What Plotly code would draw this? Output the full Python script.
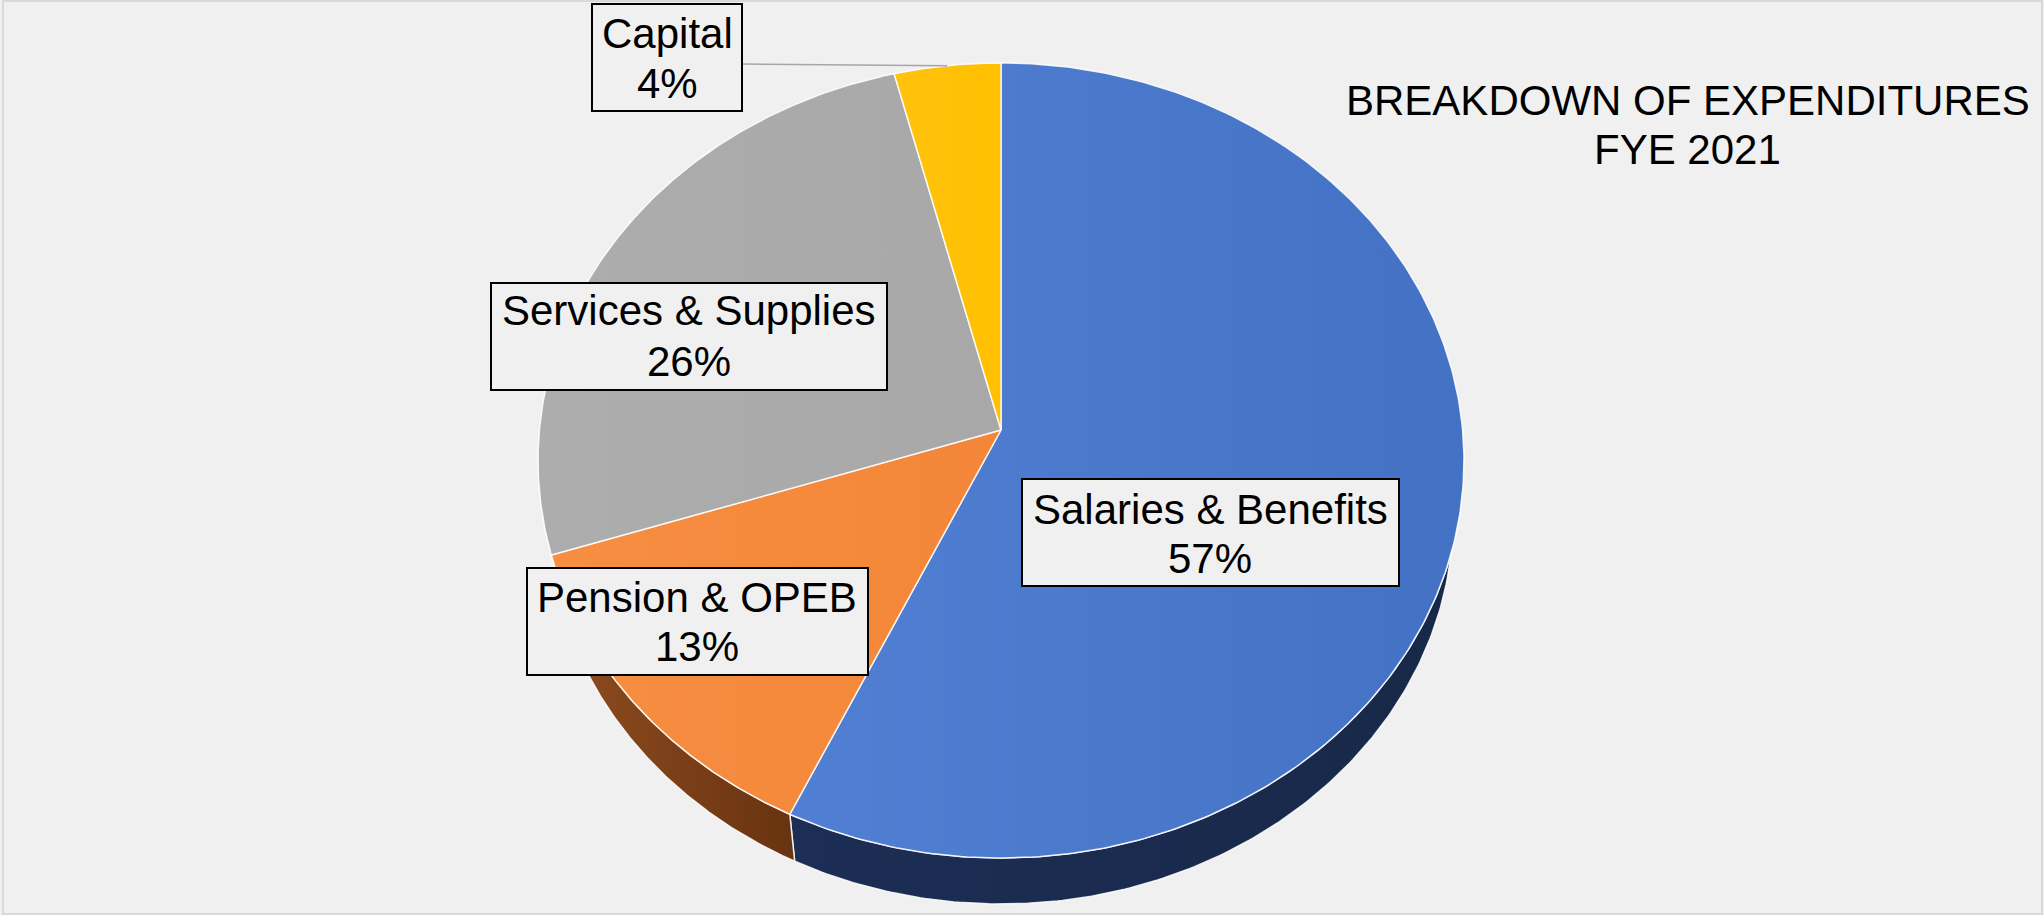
import numpy as np
import plotly.graph_objects as go

# ---------------- data ----------------
categories = ["Salaries & Benefits", "Pension & OPEB", "Services & Supplies", "Capital"]
values = [57, 13, 26, 4]
pct_labels = ["57%", "13%", "26%", "4%"]
title_lines = ["BREAKDOWN OF EXPENDITURES", "FYE 2021"]

# ---------------- style ----------------
top_grad = [["#517FD3", "#4371C3"], ["#F78E42", "#F38638"], ["#ADADAD", "#A8A8A8"], ["#FFC30E", "#FFC000"]]
side_grad = [["#1D2E56", "#172848"], ["#904D20", "#683311"], ["#7A7A7A", "#6E6E6E"], ["#B88A00", "#A67C00"]]
# label boxes (x0, x1, y0, y1) in page pixels, and text line centres
label_boxes = [(1022, 1399, 479, 586), (527, 868, 568, 675), (491, 887, 283, 390), (592, 742, 4, 111)]
label_cx = [1210, 697, 689, 667]
label_y1 = [509, 597, 310, 33]
label_y2 = [558, 646, 361, 83]

W, H = 2044, 915
# perspective pie geometry (page pixels)
CX, CY = 1001, 430          # apex of the pie
A, B, K = 461.6, 395.2, 0.0767
S, YV = 0.977, 2856.0       # shrink toward vanishing point for the bottom face
FONT = "Liberation Sans, Arial, sans-serif"
EDGE = dict(color="rgba(255,255,255,0.85)", width=1.5)


def rim(t_deg, bottom=False):
    t = np.radians(t_deg)
    u, v = np.sin(t), np.cos(t)
    w = 1 + K * v
    x = CX + A * u / w
    y = CY - B * v / w
    if bottom:
        x = CX + (x - CX) * S
        y = YV + (y - YV) * S
    return x, y


total = float(sum(values))
bounds = np.concatenate([[0.0], np.cumsum(values) / total * 360.0])

fig = go.Figure()

# side walls (front half only)
for i in range(len(values)):
    a, b = bounds[i], bounds[i + 1]
    lo, hi = max(a, 90.0), min(b, 270.0)
    if hi <= lo:
        continue
    ts = np.linspace(lo, hi, 200)
    xt, yt = rim(ts)
    xb, yb = rim(ts[::-1], bottom=True)
    fig.add_trace(go.Scatter(
        x=np.concatenate([xt, xb, xt[:1]]), y=np.concatenate([yt, yb, yt[:1]]),
        mode="lines", fill="toself", line=EDGE,
        fillgradient=dict(type="horizontal", colorscale=[[0, side_grad[i][0]], [1, side_grad[i][1]]]),
        hoverinfo="skip", showlegend=False))

# top faces
for i in range(len(values)):
    a, b = bounds[i], bounds[i + 1]
    ts = np.linspace(a, b, 300)
    xr, yr = rim(ts)
    fig.add_trace(go.Scatter(
        x=np.concatenate([[CX], xr, [CX]]), y=np.concatenate([[CY], yr, [CY]]),
        mode="lines", fill="toself", line=EDGE,
        fillgradient=dict(type="horizontal", colorscale=[[0, top_grad[i][0]], [1, top_grad[i][1]]]),
        name=categories[i], hoverinfo="name", showlegend=False))

shapes = []
annotations = []

# leader line for the smallest slice (Capital)
cap_mid = (bounds[3] + bounds[4]) / 2
lx, ly = rim(cap_mid)
shapes.append(dict(type="line", xref="x", yref="y", x0=label_boxes[3][1], y0=64, x1=float(lx), y1=float(ly),
                   line=dict(color="#A6A6A6", width=1.5), layer="above"))

for i in range(len(values)):
    x0, x1, y0, y1 = label_boxes[i]
    shapes.append(dict(type="rect", xref="x", yref="y", x0=x0, x1=x1, y0=y0, y1=y1,
                       fillcolor="#F0F0F0", line=dict(color="#000000", width=2), layer="above"))
    annotations.append(dict(x=label_cx[i], y=label_y1[i], xref="x", yref="y", text=categories[i],
                            showarrow=False, xanchor="center", yanchor="middle",
                            font=dict(family=FONT, size=42, color="#000000")))
    annotations.append(dict(x=label_cx[i], y=label_y2[i], xref="x", yref="y", text=pct_labels[i],
                            showarrow=False, xanchor="center", yanchor="middle",
                            font=dict(family=FONT, size=42, color="#000000")))

annotations.append(dict(x=1688, y=100, xref="x", yref="y", text=title_lines[0], showarrow=False,
                        xanchor="center", yanchor="middle", font=dict(family=FONT, size=42, color="#000000")))
annotations.append(dict(x=1687, y=149, xref="x", yref="y", text=title_lines[1], showarrow=False,
                        xanchor="center", yanchor="middle", font=dict(family=FONT, size=42, color="#000000")))

# chart area border
shapes.append(dict(type="rect", xref="x", yref="y", x0=3, x1=2042, y0=1, y1=914,
                   line=dict(color="#D9D9D9", width=2), fillcolor="rgba(0,0,0,0)", layer="below"))

fig.update_layout(
    width=W, height=H, margin=dict(l=0, r=0, t=0, b=0),
    paper_bgcolor="#F0F0F0", plot_bgcolor="#F0F0F0",
    xaxis=dict(range=[0, W], visible=False, fixedrange=True),
    yaxis=dict(range=[H, 0], visible=False, fixedrange=True),
    shapes=shapes, annotations=annotations, showlegend=False,
)

fig.write_html("out.html", config={"displayModeBar": False},
               post_script="document.body.style.margin='0px';document.body.style.background='#F0F0F0';")
